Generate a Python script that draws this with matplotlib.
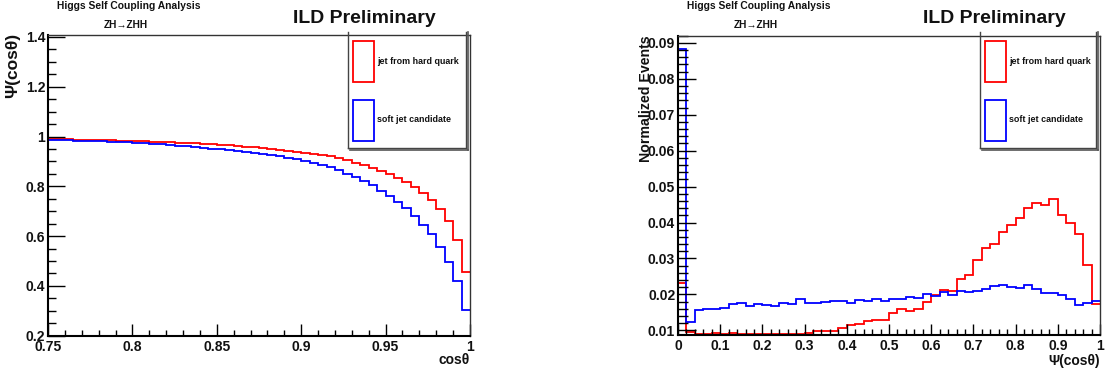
import numpy as np
import matplotlib
matplotlib.use("Agg")
import matplotlib.pyplot as plt
from matplotlib.patches import Rectangle
from matplotlib.lines import Line2D
from matplotlib.ticker import MultipleLocator, FixedLocator, FixedFormatter

plt.rcParams['font.family'] = ['Liberation Sans', 'DejaVu Sans']
plt.rcParams['font.weight'] = 'bold'

# ---- data -------------------------------------------------------------
# left: Psi(cos theta) vs cos theta, 50 bins in [0.75, 1.0]
cos_lo, cos_hi, cos_nbins = 0.75, 1.0, 50
psi_hard = [0.990, 0.989, 0.989, 0.988, 0.987, 0.987, 0.986, 0.985, 0.984, 0.983,
            0.982, 0.981, 0.980, 0.979, 0.977, 0.976, 0.974, 0.973, 0.971, 0.969,
            0.967, 0.965, 0.962, 0.960, 0.957, 0.953, 0.949, 0.945, 0.941, 0.937,
            0.932, 0.928, 0.924, 0.920, 0.913, 0.905, 0.894, 0.886, 0.874, 0.862,
            0.850, 0.833, 0.818, 0.797, 0.775, 0.746, 0.710, 0.660, 0.585, 0.454]
psi_soft = [0.986, 0.985, 0.985, 0.984, 0.983, 0.982, 0.981, 0.979, 0.978, 0.977,
            0.975, 0.973, 0.971, 0.969, 0.966, 0.964, 0.961, 0.958, 0.955, 0.952,
            0.949, 0.945, 0.941, 0.937, 0.933, 0.929, 0.925, 0.920, 0.914, 0.908,
            0.902, 0.895, 0.886, 0.877, 0.866, 0.850, 0.838, 0.823, 0.805, 0.782,
            0.760, 0.738, 0.711, 0.682, 0.645, 0.607, 0.557, 0.497, 0.418, 0.302]

# right: normalized distribution of Psi(cos theta), 50 bins in [0, 1]
psi_lo, psi_hi, psi_nbins = 0.0, 1.0, 50
dist_hard = [0.0232, 0.0095, 0.0090, 0.0090, 0.0092, 0.0090, 0.0092, 0.0090, 0.0090, 0.0090,
             0.0090, 0.0091, 0.0090, 0.0090, 0.0090, 0.0092, 0.0099, 0.0099, 0.0099, 0.0106,
             0.0115, 0.0117, 0.0126, 0.0130, 0.0130, 0.0149, 0.0160, 0.0154, 0.0160, 0.0179,
             0.0199, 0.0213, 0.0210, 0.0242, 0.0254, 0.0296, 0.0328, 0.0341, 0.0374, 0.0392,
             0.0412, 0.0441, 0.0454, 0.0448, 0.0466, 0.0421, 0.0399, 0.0367, 0.0283, 0.0174]
dist_soft = [0.0882, 0.0124, 0.0156, 0.0160, 0.0160, 0.0163, 0.0174, 0.0177, 0.0169, 0.0172,
             0.0170, 0.0168, 0.0177, 0.0174, 0.0188, 0.0177, 0.0177, 0.0180, 0.0182, 0.0181,
             0.0177, 0.0185, 0.0183, 0.0187, 0.0181, 0.0186, 0.0186, 0.0192, 0.0190, 0.0201,
             0.0196, 0.0206, 0.0197, 0.0209, 0.0206, 0.0209, 0.0215, 0.0223, 0.0225, 0.0220,
             0.0219, 0.0226, 0.0214, 0.0205, 0.0203, 0.0197, 0.0186, 0.0171, 0.0175, 0.0181]

left_xticks = [0.75, 0.8, 0.85, 0.9, 0.95, 1.0]
left_xlabels = ["0.75", "0.8", "0.85", "0.9", "0.95", "1"]
left_yticks = [0.2, 0.4, 0.6, 0.8, 1.0, 1.2, 1.4]
left_ylabels = ["0.2", "0.4", "0.6", "0.8", "1", "1.2", "1.4"]
right_xticks = [0.0, 0.1, 0.2, 0.3, 0.4, 0.5, 0.6, 0.7, 0.8, 0.9, 1.0]
right_xlabels = ["0", "0.1", "0.2", "0.3", "0.4", "0.5", "0.6", "0.7", "0.8", "0.9", "1"]
right_yticks = [0.01, 0.02, 0.03, 0.04, 0.05, 0.06, 0.07, 0.08, 0.09]
right_ylabels = ["0.01", "0.02", "0.03", "0.04", "0.05", "0.06", "0.07", "0.08", "0.09"]

label_hard = "jet from hard quark"
label_soft = "soft jet candidate"

# ---- figure -----------------------------------------------------------
W, H = 1106, 372
fig = plt.figure(figsize=(W / 100, H / 100), dpi=100)


def fx(px):
    return px / W


def fy(py):
    return 1 - py / H


def add_frame(x0, y0, x1, y1):
    return fig.add_axes([fx(x0), fy(y1), fx(x1) - fx(x0), fy(y0) - fy(y1)])


RED = "#ff0000"
BLUE = "#0000ff"
INK = "#111111"
TICK_FS = 10


def style_axes(ax, xmin, ymin, xticks, xlabels, yticks, ylabels):
    ax.xaxis.set_major_locator(FixedLocator(xticks))
    ax.xaxis.set_major_formatter(FixedFormatter(xlabels))
    ax.yaxis.set_major_locator(FixedLocator(yticks))
    ax.yaxis.set_major_formatter(FixedFormatter(ylabels))
    ax.xaxis.set_minor_locator(MultipleLocator(xmin))
    ax.yaxis.set_minor_locator(MultipleLocator(ymin))
    ax.tick_params(axis='both', which='both', direction='in', top=False, right=False,
                   color='black', width=1.0, labelsize=TICK_FS, labelcolor=INK)
    ax.tick_params(axis='y', which='major', length=12, pad=2)
    ax.tick_params(axis='y', which='minor', length=6)
    ax.tick_params(axis='x', which='major', length=9, pad=3)
    ax.tick_params(axis='x', which='minor', length=4.5)
    for lab in ax.get_xticklabels() + ax.get_yticklabels():
        lab.set_fontweight('bold')
    for side in ['left', 'bottom']:
        ax.spines[side].set_linewidth(1.5)
    for side in ['top', 'right']:
        ax.spines[side].set_linewidth(1.0)
        ax.spines[side].set_color('#333333')


def draw_legend(x0, x1, y0, y1):
    # box with drop shadow on the right and bottom
    fig.add_artist(Line2D([fx(x0), fx(x0)], [fy(y0), fy(y1)], color='#444444', lw=1.0))
    fig.add_artist(Line2D([fx(x0), fx(x1)], [fy(y1), fy(y1)], color='#444444', lw=1.0))
    fig.add_artist(Line2D([fx(x1), fx(x1)], [fy(y0), fy(y1)], color='#444444', lw=1.0))
    fig.add_artist(Line2D([fx(x0 + 2), fx(x1 + 2)], [fy(y1 + 2), fy(y1 + 2)], color='#555555', lw=1.2))
    fig.add_artist(Line2D([fx(x1 + 2), fx(x1 + 2)], [fy(y0), fy(y1 + 2)], color='#555555', lw=1.2))
    entries = [(RED, label_hard), (BLUE, label_soft)]
    box_h = (y1 - y0) / 2
    for i, (col, lab) in enumerate(entries):
        top = y0 + 9 + i * (box_h + 0.5)
        fig.add_artist(Rectangle((fx(x0 + 5), fy(top + 41)), fx(21), 41 / H,
                                 facecolor='none', edgecolor=col, lw=1.3))
        fig.text(fx(x0 + 29), fy(top + 20.5), lab, fontsize=6.4, fontweight='bold',
                 ha='left', va='center', color=INK)


def draw_titles(x_off):
    fig.text(fx(57 + x_off), fy(6), "Higgs Self Coupling Analysis", fontsize=7.4,
             fontweight='bold', ha='left', va='center', color=INK)
    fig.text(fx(126 + x_off), fy(25.5), "ZH\u2192ZHH", fontsize=7.3,
             fontweight='bold', ha='center', va='center', color=INK)
    fig.text(fx(364 + x_off), fy(18.5), "ILD Preliminary", fontsize=14,
             fontweight='bold', ha='center', va='center', color=INK)


# left panel
axL = add_frame(48, 34.5, 470, 335.7)
edgesL = np.linspace(cos_lo, cos_hi, cos_nbins + 1)
axL.stairs(psi_hard, edgesL, baseline=None, color=RED, lw=1.3)
axL.stairs(psi_soft, edgesL, baseline=None, color=BLUE, lw=1.3)
axL.set_xlim(cos_lo, cos_hi)
axL.set_ylim(0.2, 1.41)
style_axes(axL, 0.01, 0.05, left_xticks, left_xlabels, left_yticks, left_ylabels)

# right panel
axR = add_frame(678, 35.7, 1100, 335)
edgesR = np.linspace(psi_lo, psi_hi, psi_nbins + 1)
axR.stairs(dist_hard, edgesR, baseline=None, color=RED, lw=1.3)
axR.stairs(dist_soft, edgesR, baseline=None, color=BLUE, lw=1.3)
axR.set_xlim(psi_lo, psi_hi)
axR.set_ylim(0.0087, 0.092)
style_axes(axR, 0.02, 0.002, right_xticks, right_xlabels, right_yticks, right_ylabels)
axR.tick_params(axis='y', which='major', length=13)
axR.tick_params(axis='y', which='minor', length=7)
axR.tick_params(axis='x', which='major', length=8)
axR.tick_params(axis='x', which='minor', length=4)

# axis titles
fig.text(fx(13), fy(33), "\u03a8(cos\u03b8)", fontsize=12.5, fontweight='bold',
         rotation=90, ha='center', va='top', color=INK)
fig.text(fx(470), fy(360.5), "cos\u03b8", fontsize=10, fontweight='bold',
         ha='right', va='center', color=INK)
fig.text(fx(646), fy(35), "Normalized Events", fontsize=10.2, fontweight='bold',
         rotation=90, ha='center', va='top', color=INK)
fig.text(fx(1100), fy(360.5), "\u03a8(cos\u03b8)", fontsize=10, fontweight='bold',
         ha='right', va='center', color=INK)

draw_titles(0)
draw_titles(630)
draw_legend(348, 466, 32, 148)
draw_legend(980, 1096, 32, 148)

fig.savefig("out.png", dpi=100, facecolor='white')
